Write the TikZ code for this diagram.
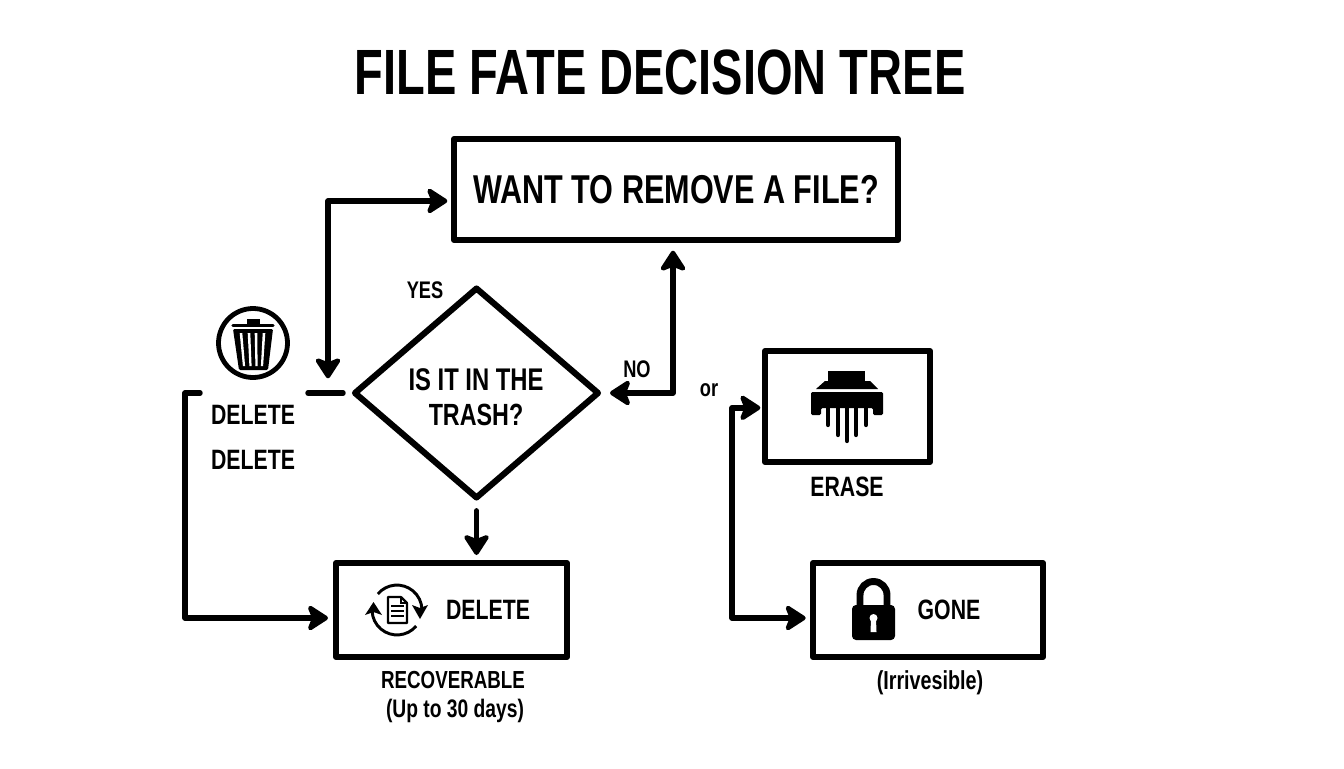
\documentclass[tikz,border=0pt]{standalone}
\usepackage{fontspec}
\usetikzlibrary{arrows.meta,shapes.geometric}
\setmainfont{Liberation Sans}[BoldFont={Liberation Sans Bold}]
\newfontfamily\cond{Liberation Sans Bold}[FakeStretch=0.76]
\newfontfamily\condT{Liberation Sans Bold}[FakeStretch=0.735]
\tikzset{
  x=0.75pt,y=-0.75pt,
  lbl/.style={inner sep=0pt,text=black,align=center,font=\cond},
  boxed/.style={draw=black,line width=4.6pt,line join=round,fill=white,rectangle,inner sep=0pt,outer sep=0pt,font=\cond},
  dia/.style={draw=black,line width=4.6pt,line join=round,fill=white,diamond,inner sep=0pt,outer sep=0pt},
  flow/.style={draw=black,line width=4.1pt,line join=round,line cap=round},
  htip/.tip={Stealth[length=18pt,width=23pt,inset=4.5pt,round]},
  tip/.style={-htip},
  flowboth/.style={htip-htip},
}
\newcommand{\fs}[1]{\fontsize{#1}{#1}\selectfont}
\begin{document}
\begin{tikzpicture}
\useasboundingbox (0,0) rectangle (1344,768);
\fill[white] (0,0) rectangle (1344,768);

% title
\node[lbl,font=\condT] (title) at (660,72) {\fs{48}FILE FATE DECISION TREE};

% boxes
\node[boxed,minimum width=333pt,minimum height=75.75pt] (want) at (676,189.5) {\fs{30.2}WANT TO REMOVE A FILE?};
\node[dia,minimum width=182.25pt,minimum height=156.75pt] (qdia) at (476.5,393) {};
\node[lbl] (q1) at (476,380) {\fs{23.5}IS IT IN THE};
\node[lbl] (q2) at (476,415) {\fs{23}TRASH?};
\node[boxed,minimum width=173.25pt,minimum height=70.5pt] (delbox) at (451.5,610) {};
\node[lbl] (del) at (488,610) {\fs{21}DELETE};
\node[boxed,minimum width=123.75pt,minimum height=83.25pt] (erabox) at (847.5,406.5) {};
\node[boxed,minimum width=172.5pt,minimum height=70.5pt] (gonebox) at (928,610) {};
\node[lbl] (gone) at (949,610) {\fs{21}GONE};

% labels
\node[lbl] (yes) at (425,290) {\fs{18}YES};
\node[lbl] (no) at (637,369) {\fs{18}NO};
\node[lbl] (or) at (709,390) {\fs{18}or};
\node[lbl] (d1) at (253,415) {\fs{21}DELETE};
\node[lbl] (d2) at (253,460) {\fs{21}DELETE};
\node[lbl] (erase) at (847,487) {\fs{21}ERASE};
\node[lbl] (rec) at (453,680) {\fs{18.5}RECOVERABLE};
\node[lbl] (up) at (455,711) {\fs{19}(Up to 30 days)};
\node[lbl] (irr) at (930,683) {\fs{19.5}(Irrivesible)};

% connectors
\draw[flow] (308,393) -- (343,393);
\coordinate (a0) at ([yshift=-8.6pt]want.west);
\coordinate (a2) at (328,393);
\coordinate (a1) at (a0 -| a2);
\draw[flow,flowboth,shorten <=5pt,shorten >=11pt] (a0) -- (a1) -- (a2);
\coordinate (c2) at (673,393);
\draw[flow,flowboth,shorten <=9pt,shorten >=8pt] (qdia.east) -- (c2) -- (c2 |- want.south);
\draw[flow,tip,shorten <=10pt,shorten >=6pt] (qdia.south) -- (qdia.south |- delbox.north);
\coordinate (e1) at (200,393);
\coordinate (e2) at (185,393);
\coordinate (e4) at ([yshift=-6pt]delbox.west);
\draw[flow,tip,shorten >=6pt] (e1) -- (e2) -- (e2 |- e4) -- (e4);
\coordinate (f1) at ([yshift=-1pt]erabox.west);
\coordinate (fx) at (732,0);
\coordinate (f2) at (f1 -| fx);
\coordinate (f4) at ([yshift=-6pt]gonebox.west);
\draw[flow,flowboth,shorten <=3.5pt,shorten >=5.5pt] (f1) -- (f2) -- (f2 |- f4) -- (f4);

% trash icon
\draw[line width=3.6pt] (253,343) circle (34.5);
\fill (247,319) rectangle (260,325);
\draw[line width=2.6pt,line cap=round] (233,325.5) -- (273,325.5);
\fill[rounded corners=1pt] (233,329) -- (273,329) -- (268,370) -- (239,370) -- cycle;
\foreach \xa/\xb in {241/244,249/250.5,256/256.5,264/262}{
  \fill[white] (\xa-1.3,333) -- (\xa+1.3,333) -- (\xb+1.1,366) -- (\xb-1.1,366) -- cycle;
}

% recycle icon (y axis points down, so angles run clockwise)
\draw[line width=2.2pt] (377.8,594) arc[start angle=220,end angle=358,radius=25];
\fill (412,605) -- (420,608) -- (428,605) -- (420,619) -- cycle;
\draw[line width=2.2pt] (416.2,626) arc[start angle=40,end angle=178,radius=25];
\fill (365,615) -- (373.5,612) -- (382,615) -- (373.5,602) -- cycle;
\draw[line width=1.6pt,line join=round] (388,597) -- (401,597) -- (407,603) -- (407,623) -- (388,623) -- cycle;
\draw[line width=1.2pt] (401,597) -- (401,603) -- (407,603);
\foreach \yy in {606,611,616}{\draw[line width=1.4pt] (391,\yy) -- (404,\yy);}

% shredder icon
\fill (828,371) rectangle (865,381);
\fill (825,381) -- (870,381) -- (878,389) -- (816,389) -- cycle;
\fill[rounded corners=1pt] (811,392) -- (883,392) -- (883,415) -- (873,415) -- (873,408) -- (821,408) -- (821,415) -- (811,415) -- cycle;
\foreach \xx/\yy in {828/427,838/437,847/443,856/437,866/427}{
  \draw[line width=3.2pt,line cap=round] (\xx,406) -- (\xx,\yy-2);
}

% lock icon
\draw[line width=5.2pt] (860,606) -- (860,595) arc[start angle=180,end angle=360,radius=13.5] -- (887,606);
\fill[rounded corners=3pt] (852,605) rectangle (895,640);
\fill[white] (873.5,618) circle (4);
\fill[white] (871,619) -- (876,619) -- (876.5,632) -- (870.5,632) -- cycle;
\end{tikzpicture}
\end{document}
